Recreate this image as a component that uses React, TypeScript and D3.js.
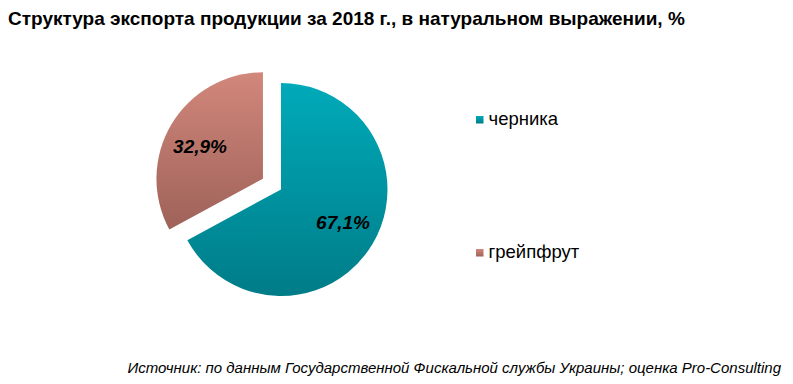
import * as d3 from "d3";

const categories = ["черника", "грейпфрут"];
const values = [67.1, 32.9];
const labels = ["67,1%", "32,9%"];
const title = "Структура экспорта продукции за 2018 г., в натуральном выражении, %";
const source = "Источник: по данным Государственной Фискальной службы Украины; оценка Pro-Consulting";

const gradients = [
  ["#00aab9", "#007c88"],
  ["#d2877b", "#9e6259"],
];

export default function App() {
  const width = 793;
  const height = 384;
  const cx = 281;
  const cy = 189.5;
  const r = 106.5;
  const explode = 21;

  const pie = d3.pie<number>().sort(null).value((d) => d);
  const arcs = pie(values);
  const arc = d3.arc<d3.PieArcDatum<number>>().innerRadius(0).outerRadius(r);

  // label positions inside the slices
  const labelPos = [
    { x: 343, y: 229 },
    { x: 200, y: 153 },
  ];
  const legendY = [119.5, 252.5];

  return (
    <svg width={width} height={height} style={{ position: "absolute", left: 0, top: 0, fontFamily: "Arial, 'Liberation Sans', sans-serif" }}>
      <defs>
        {gradients.map((g, i) => (
          <linearGradient key={i} id={`grad${i}`} x1="0" y1="0" x2="0" y2="1">
            <stop offset="0%" stopColor={g[0]} />
            <stop offset="100%" stopColor={g[1]} />
          </linearGradient>
        ))}
      </defs>
      <rect width={width} height={height} fill="#fff" />
      <text x={8} y={25} fontSize={19} fontWeight="bold" fill="#000">{title}</text>

      {arcs.map((a, i) => {
        const mid = (a.startAngle + a.endAngle) / 2;
        const off = i === 1 ? explode : 0;
        const dx = Math.sin(mid) * off;
        const dy = -Math.cos(mid) * off;
        return (
          <g key={i} transform={`translate(${cx + dx},${cy + dy})`}>
            <path d={arc(a) ?? ""} fill={`url(#grad${i})`} />
          </g>
        );
      })}

      {labels.map((l, i) => (
        <text key={l} x={labelPos[i].x} y={labelPos[i].y} textAnchor="middle" fontSize={19} fontWeight="bold" fontStyle="italic" fill="#000">{l}</text>
      ))}

      {categories.map((c, i) => {
        const y = legendY[i];
        return (
          <g key={c}>
            <rect x={476} y={y - 3.5} width={7.5} height={7.5} fill={`url(#grad${i})`} />
            <text x={488.5} y={y + 5} fontSize={18.5} fill="#000">{c}</text>
          </g>
        );
      })}

      <text x={781} y={373} textAnchor="end" fontSize={15} fontStyle="italic" fill="#000">{source}</text>
    </svg>
  );
}
